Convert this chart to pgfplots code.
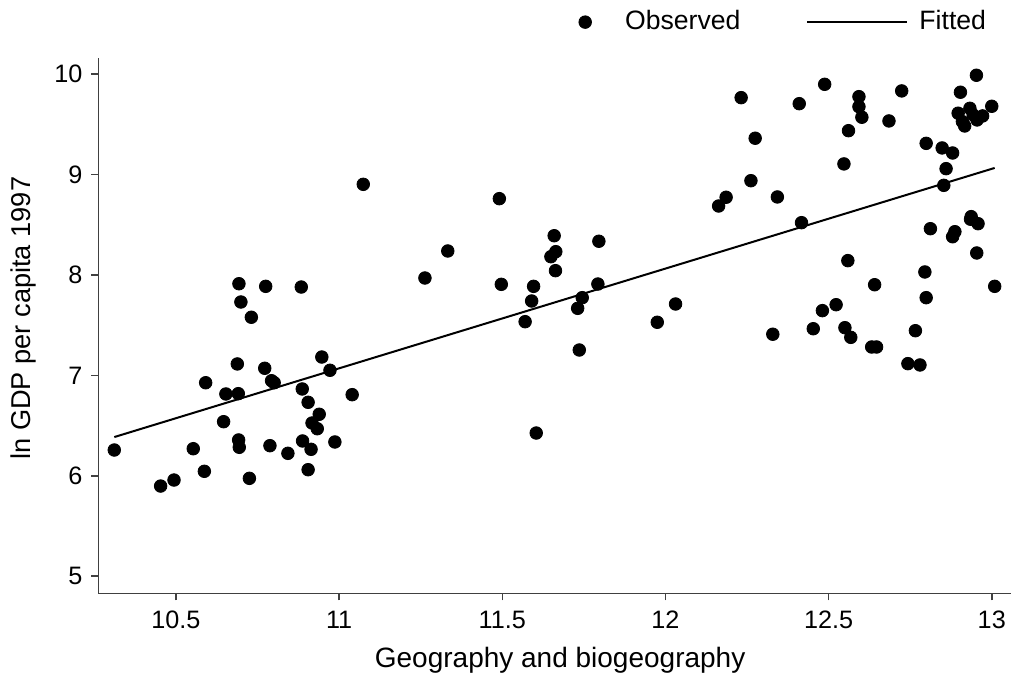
\documentclass[border=0pt]{standalone}
\usepackage{fontspec}
\setmainfont{Liberation Sans}
\usepackage{pgfplots}
\pgfplotsset{compat=1.18}
\begin{document}
\fontsize{12.6bp}{15bp}\selectfont
\begin{tikzpicture}
\begin{axis}[
  name=ax,
  scale only axis,
  width=456.35bp, height=267.65bp,
  xmin=10.262, xmax=13.059, ymin=4.830, ymax=10.161,
  axis lines*=left,
  axis line style={black!75, line width=0.75bp},
  tick style={black!75, line width=0.75bp},
  tick align=outside,
  major tick length=3.5bp,
  xtick={10.5,11,11.5,12,12.5,13},
  ytick={5,6,7,8,9,10},
  /pgf/number format/assume math mode=true,
  /pgf/number format/fixed,
  every tick label/.append style={font=\fontsize{12.6bp}{15bp}\selectfont},
  yticklabel style={xshift=0bp},
  xticklabel style={yshift=-1bp},
  xlabel={Geography and biogeography},
  ylabel={ln GDP per capita 1997},
  x label style={at={(axis description cs:0.506,-0.1252)}, anchor=center, font=\fontsize{14bp}{16bp}\selectfont},
  y label style={at={(axis description cs:-0.0822,0.514)}, anchor=center, font=\fontsize{13.6bp}{16bp}\selectfont},
  legend columns=2,
  legend style={at={(0.526,1.067)}, anchor=west, draw=none, fill=none, inner sep=0pt,
    font=\fontsize{13.3bp}{16bp}\selectfont,
    /tikz/every even column/.append style={column sep=31bp}},
  clip=false,
]
\addplot[only marks, mark=*, mark size=3.15bp, black,
  legend image code/.code={\draw[only marks, mark=*, mark size=3.15bp] plot coordinates {(0bp,0bp)}; \path[draw=none,fill=none] (-3.2bp,0bp) -- (18bp,0bp);}]
  table {
x y
10.693 7.913
10.775 7.887
10.884 7.880
10.699 7.731
10.731 7.579
10.947 7.183
10.688 7.114
10.772 7.071
10.972 7.051
10.591 6.927
10.793 6.947
10.801 6.927
10.887 6.865
10.653 6.815
10.691 6.818
11.040 6.808
10.905 6.732
10.939 6.613
10.646 6.539
10.917 6.526
10.933 6.469
10.311 6.257
10.553 6.270
10.692 6.357
10.694 6.284
10.788 6.300
10.888 6.347
10.987 6.337
10.914 6.264
10.843 6.224
10.587 6.045
10.905 6.061
10.725 5.975
10.494 5.958
10.453 5.898
11.074 8.903
11.491 8.760
11.333 8.239
11.263 7.970
11.659 8.391
11.664 8.232
11.649 8.182
11.663 8.043
11.796 8.336
11.497 7.907
11.596 7.887
11.590 7.741
11.570 7.535
11.793 7.910
11.745 7.774
11.731 7.668
11.736 7.253
12.031 7.711
11.975 7.529
11.604 6.426
12.232 9.766
12.488 9.899
12.410 9.706
12.593 9.776
12.593 9.676
12.602 9.571
12.724 9.833
12.685 9.534
12.561 9.437
12.953 9.989
12.904 9.820
13.000 9.680
12.897 9.611
12.910 9.527
12.917 9.484
12.933 9.660
12.943 9.594
12.955 9.544
12.972 9.584
12.275 9.362
12.262 8.939
12.547 9.106
12.799 9.311
12.848 9.265
12.880 9.215
12.860 9.059
12.853 8.893
12.186 8.774
12.163 8.687
12.343 8.777
12.417 8.521
12.937 8.581
12.935 8.555
12.958 8.511
12.812 8.461
12.887 8.431
12.880 8.381
12.954 8.219
12.559 8.143
12.795 8.030
12.641 7.903
13.009 7.887
12.799 7.774
12.523 7.704
12.481 7.645
12.329 7.410
12.453 7.465
12.550 7.475
12.568 7.379
12.766 7.445
12.632 7.283
12.647 7.283
12.743 7.117
12.780 7.104
};
\addlegendentry{Observed}
\addplot[black, line width=1bp,
  legend image code/.code={\draw[line width=1bp] (0bp,0bp) -- (50bp,0bp); \path[draw=none,fill=none] (0bp,0bp) -- (54bp,0bp);}]
  coordinates {(10.311,6.386) (13.009,9.066)};
\addlegendentry{Fitted}
\end{axis}
\pgfresetboundingbox
\path ([xshift=-49.15bp, yshift=-43.85bp]ax.south west) rectangle ([yshift=29bp]ax.north east);
\end{tikzpicture}
\end{document}
